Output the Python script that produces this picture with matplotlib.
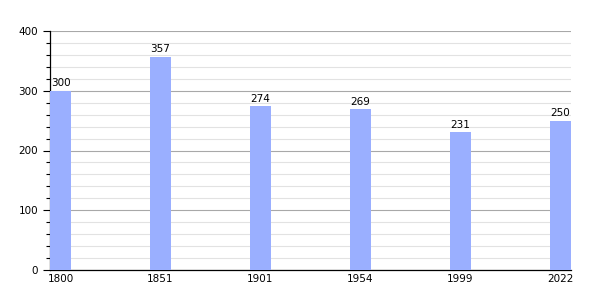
import matplotlib
matplotlib.use("Agg")
import matplotlib.pyplot as plt
from matplotlib.ticker import MultipleLocator

years = ["1800", "1851", "1901", "1954", "1999", "2022"]
population = [300, 357, 274, 269, 231, 250]

fig = plt.figure(figsize=(6, 3), dpi=100)
ax = fig.add_axes([50 / 600, 30 / 300, 521 / 600, 239 / 300])

pos = list(range(len(years)))
ax.bar(pos, population, width=0.21, color="#9aafff", zorder=3)

for x, v in zip(pos, population):
    ax.text(x, v + 4, str(v), ha="center", va="bottom", fontsize=7.5, zorder=4)

ax.set_xlim(-0.105, len(years) - 1 + 0.105)
ax.set_ylim(0, 400)
ax.set_xticks(pos)
ax.set_xticklabels(years, fontsize=7.5)
ax.yaxis.set_major_locator(MultipleLocator(100))
ax.yaxis.set_minor_locator(MultipleLocator(20))
ax.tick_params(axis="y", which="major", labelsize=7.5, length=5, width=0.8)
ax.tick_params(axis="y", which="minor", length=3, width=0.8)
ax.tick_params(axis="x", length=0, pad=3)

ax.grid(axis="y", which="major", color="#a8a8a8", linewidth=0.8, zorder=0)
ax.grid(axis="y", which="minor", color="#e2e2e2", linewidth=0.8, zorder=0)

for side in ("top", "right"):
    ax.spines[side].set_visible(False)
ax.spines["left"].set_linewidth(0.9)
ax.spines["bottom"].set_linewidth(0.9)

fig.savefig("out.png", dpi=100)
